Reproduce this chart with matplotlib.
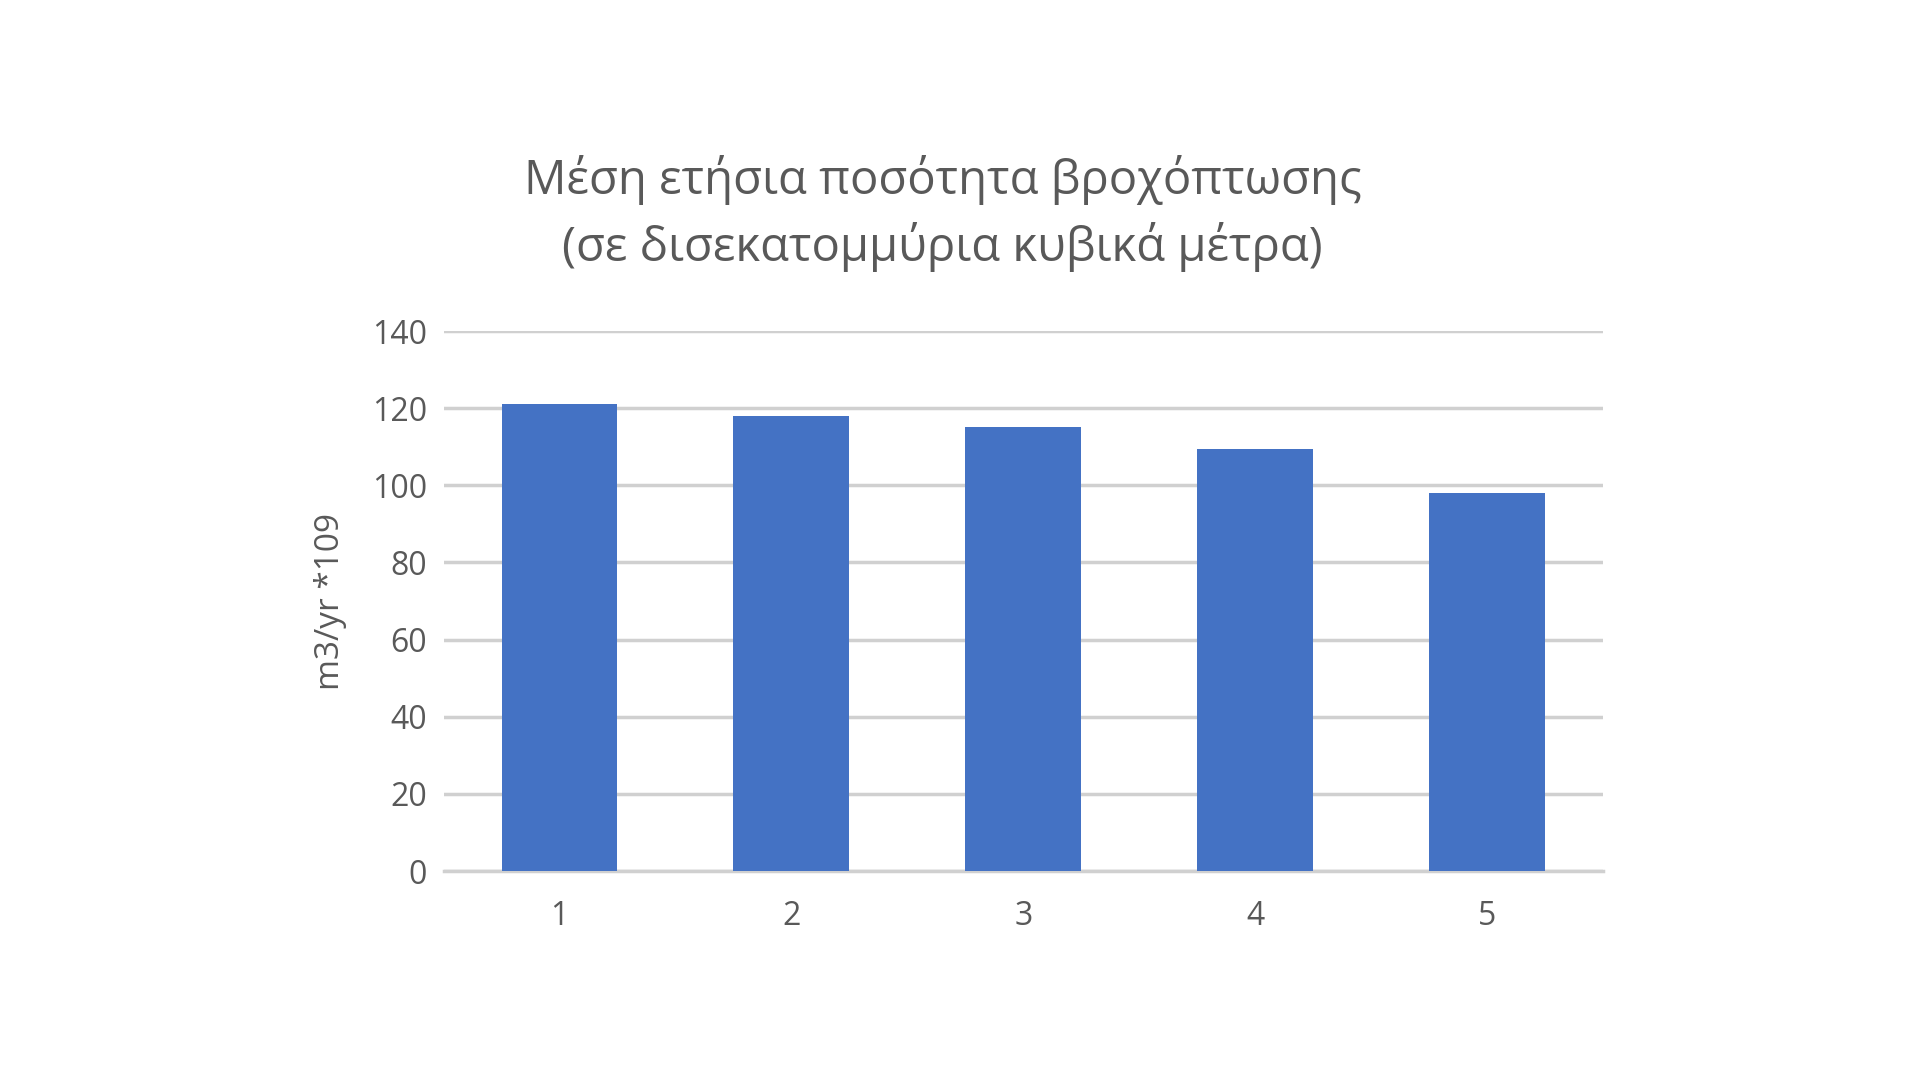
import matplotlib.pyplot as plt
import numpy as np

# data
categories = ['1', '2', '3', '4', '5']
rainfall = [121, 118, 115, 109.5, 98]
yticks = [0, 20, 40, 60, 80, 100, 120, 140]

title = 'Μέση ετήσια ποσότητα βροχόπτωσης\n(σε δισεκατομμύρια κυβικά μέτρα)'
ylabel = 'm3/yr *109'

plt.rcParams['font.family'] = ['Open Sans', 'DejaVu Sans']
text_col = '#595959'

fig = plt.figure(figsize=(19.2, 10.8), dpi=100)
ax = fig.add_axes([0.231, 0.1935, 0.604, 0.5])

x = np.arange(len(categories))
ax.bar(x, rainfall, width=0.5, color='#4472C4', zorder=3)

ax.set_xlim(-0.5, len(categories) - 0.5)
ax.set_ylim(0, 140)
ax.set_yticks(yticks)
ax.set_xticks(x)
ax.set_xticklabels(categories)
ax.grid(axis='y', color='#D0D0D0', linewidth=2.5, zorder=0)
ax.tick_params(axis='both', length=0, labelsize=23, labelcolor=text_col)
ax.tick_params(axis='x', pad=21)
ax.tick_params(axis='y', pad=12)
for s in ['top', 'right', 'left']:
    ax.spines[s].set_visible(False)
ax.spines['bottom'].set_color('#D0D0D0')
ax.spines['bottom'].set_linewidth(2.5)

ax.set_ylabel(ylabel, fontsize=24, color=text_col, labelpad=18)

fig.text(0.491, 0.8025, title, ha='center', va='center', fontsize=34,
         color=text_col, linespacing=1.45)

fig.savefig('out.png', dpi=100)
